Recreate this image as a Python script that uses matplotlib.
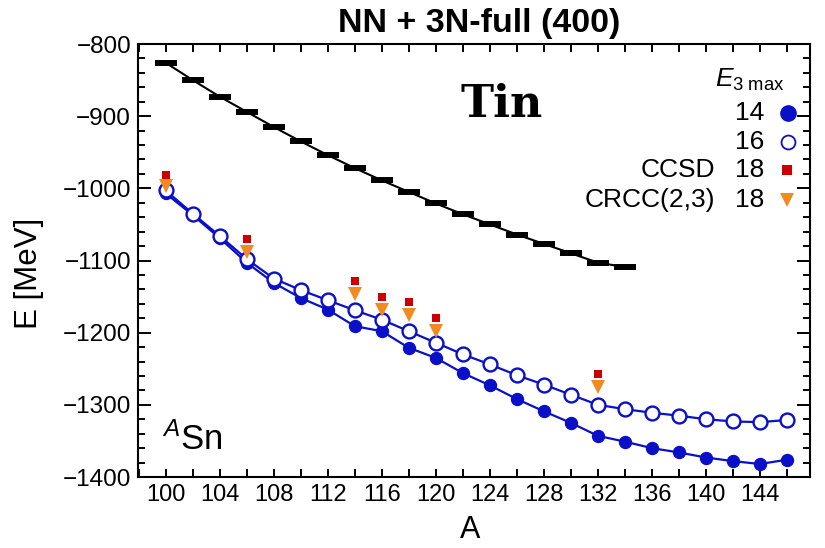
import numpy as np
import matplotlib
matplotlib.use('Agg')
import matplotlib.pyplot as plt
from matplotlib.ticker import MultipleLocator

plt.rcParams['font.family'] = ['Liberation Sans', 'DejaVu Sans']
plt.rcParams['mathtext.fontset'] = 'custom'
plt.rcParams['mathtext.rm'] = 'Liberation Sans'
plt.rcParams['mathtext.it'] = 'Liberation Sans:italic'

# experimental binding energies (black bars)
a_exp = np.arange(100, 136, 2)
e_exp = [-826, -850, -873, -894, -915, -935, -954, -972, -989, -1005,
         -1021, -1036, -1050, -1064, -1077, -1090, -1103, -1109]

# calculations, E3max = 14 (filled) and 16 (open)
a_calc = np.arange(100, 148, 2)
e_14 = [-1007, -1037, -1069, -1103, -1131, -1152, -1168, -1191, -1198, -1221,
        -1235, -1256, -1273, -1292, -1309, -1325, -1343, -1351, -1360, -1366,
        -1373, -1378, -1382, -1376]
e_16 = [-1003, -1035, -1066, -1098, -1125, -1141, -1155, -1169, -1182, -1198,
        -1214, -1230, -1244, -1259, -1272, -1286, -1300, -1306, -1311, -1315,
        -1320, -1323, -1324, -1321]

# coupled cluster, E3max = 18
a_cc = [100, 106, 114, 116, 118, 120, 132]
e_ccsd = [-981, -1070, -1129, -1151, -1158, -1179, -1257]
e_crcc = [-997, -1088, -1146, -1169, -1176, -1197, -1275]

blue = '#0a0fc8'
red = '#cc0000'
orange = '#f28a22'

fig = plt.figure(figsize=(8.25, 5.48), dpi=100)
ax = fig.add_axes([138 / 825, 1 - 477 / 548, 672 / 825, 433 / 548])

ax.plot(a_exp, e_exp, color='black', lw=1.5, zorder=2)
ax.plot(a_exp, e_exp, ls='none', marker='_', ms=15.5, mew=4.3, color='black', zorder=3)

ax.plot(a_calc, e_14, color=blue, lw=1.6, marker='o', ms=8.6, mfc=blue, mec=blue,
        mew=1, zorder=4)
ax.plot(a_calc, e_16, color=blue, lw=1.6, marker='o', ms=10, mfc='white', mec=blue,
        mew=1.7, zorder=5)
ax.plot(a_cc, e_crcc, ls='none', marker='v', ms=10, color=orange, mec=orange,
        mew=0, zorder=6)
ax.plot(a_cc, e_ccsd, ls='none', marker='s', ms=6.2, color=red, mec=red,
        mew=0, zorder=7)

ax.set_xlim(97.95, 147.7)
ax.set_ylim(-1400, -800)
ax.xaxis.set_major_locator(MultipleLocator(4))
ax.xaxis.set_minor_locator(MultipleLocator(2))
ax.yaxis.set_major_locator(MultipleLocator(100))
ax.yaxis.set_minor_locator(MultipleLocator(20))
ax.tick_params(which='both', direction='in', top=True, right=True, width=1.4)
ax.tick_params(axis='x', which='both', length=6)
ax.tick_params(axis='y', which='major', length=9.5)
ax.tick_params(axis='y', which='minor', length=5)
ax.tick_params(axis='x', labelsize=17, pad=5)
ax.tick_params(axis='y', labelsize=17.5, pad=5)
for sp in ax.spines.values():
    sp.set_linewidth(1.5)

ax.set_xlabel('A', fontsize=22)
ax.xaxis.set_label_coords(0.494, -0.088)
ax.set_ylabel('E [MeV]', fontsize=22.5)
ax.yaxis.set_label_coords(-0.14, 0.47)

fig.text(0.581, 0.958, 'NN + 3N-full (400)', fontsize=24.5, fontweight='bold',
         ha='center', va='center')
ax.text(0.5417, 0.861, 'Tin', transform=ax.transAxes, fontsize=32,
        fontweight='bold', family='DejaVu Serif', ha='center', va='center')
ax.text(0.036, 0.062, r'$^{A}$Sn', transform=ax.transAxes, fontsize=25,
        ha='left', va='baseline')

# legend drawn by hand
ax.text(0.963, 0.918, r'$E_{\mathrm{3\ max}}$', transform=ax.transAxes,
        fontsize=19, ha='right', va='center')
rows = [('', '14', 0.841), ('', '16', 0.774), ('CCSD', '18', 0.709),
        ('CRCC(2,3)', '18', 0.640)]
for name, num, y in rows:
    ax.text(0.859, y, name, transform=ax.transAxes, fontsize=19,
            ha='right', va='center')
    ax.text(0.9315, y, num, transform=ax.transAxes, fontsize=19,
            ha='right', va='center')
mx = 0.968
ax.plot([mx], [0.841], transform=ax.transAxes, marker='o', ms=11, color=blue,
        clip_on=False, zorder=8)
ax.plot([mx], [0.774], transform=ax.transAxes, marker='o', ms=10, mfc='white',
        mec=blue, mew=1.3, clip_on=False, zorder=8)
ax.plot([0.966], [0.709], transform=ax.transAxes, marker='s', ms=7, color=red,
        mew=0, clip_on=False, zorder=8)
ax.plot([0.966], [0.640], transform=ax.transAxes, marker='v', ms=10, color=orange,
        mew=0, clip_on=False, zorder=8)

fig.savefig('out.png', dpi=100)
